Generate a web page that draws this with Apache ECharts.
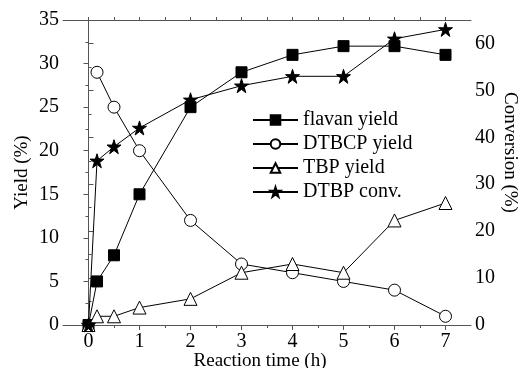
<!DOCTYPE html>
<html>
<head>
<meta charset="utf-8">
<script src="https://cdn.jsdelivr.net/npm/echarts@6/dist/echarts.min.js"></script>
<style>
  html, body { margin: 0; padding: 0; background: #fff; }
  #chart { width: 518px; height: 368px; }
</style>
</head>
<body>
<div id="chart"></div>
<script>
var times = [0, 0.167, 0.5, 1, 2, 3, 4, 5, 6, 7];
var flavanYield = [0, 5, 8, 15, 25, 29, 31, 32, 32, 31];
var dtbcpYield = [null, 29, 25, 20, 12, 7, 6, 5, 4, 1];
var tbpYield = [0, 1, 1, 2, 3, 6, 7, 6, 12, 14];
var dtbpConv = [0, 35, 38, 42, 48, 51, 53, 53, 61, 63];
var xLabels = [0, 1, 2, 3, 4, 5, 6, 7];
var xMinor = [0.5, 1.5, 2.5, 3.5, 4.5, 5.5, 6.5];
var xTop = [0, 0.5, 1, 1.5, 2, 2.5, 3, 3.5, 4, 4.5, 5, 5.5, 6, 6.5, 7];
var convLabels = [0, 10, 20, 30, 40, 50, 60];

function pairs(vals) {
  var out = [];
  for (var i = 0; i < times.length; i++) {
    if (vals[i] !== null) out.push([times[i], vals[i]]);
  }
  return out;
}

var font = 'Liberation Serif';
var axisCol = '#555';

var chart = echarts.init(document.getElementById('chart'));

function lineSeries(name, vals, symbol, size, filled, yIdx) {
  return {
    name: name,
    type: 'line',
    yAxisIndex: yIdx || 0,
    data: pairs(vals),
    symbol: symbol,
    symbolSize: size,
    showAllSymbol: true,
    lineStyle: { color: '#000', width: 1 },
    itemStyle: { color: filled ? '#000' : '#fff', borderColor: '#000', borderWidth: 1 },
    emphasis: { disabled: true },
    animation: false,
    z: yIdx ? 3 : 2
  };
}

var starPath = 'path://M50,0 L61.8,35.5 L100,35.5 L69.1,57.5 L80.9,93 L50,71 L19.1,93 L30.9,57.5 L0,35.5 L38.2,35.5 Z';

option = {
  animation: false,
  grid: { left: 63, right: 47, top: 20, bottom: 43, containLabel: false, outerBoundsMode: 'none' },
  legend: {
    orient: 'vertical',
    left: 247,
    top: 105,
    itemWidth: 45,
    itemHeight: 12,
    itemGap: 4,
    textStyle: { fontFamily: font, fontSize: 20, color: '#000' },
    data: ['flavan yield', 'DTBCP yield', 'TBP yield', 'DTBP conv.']
  },
  xAxis: [
    {
      type: 'value',
      min: -0.5,
      max: 7.5,
      position: 'bottom',
      splitLine: { show: false },
      axisLine: { lineStyle: { color: axisCol, width: 1 } },
      axisTick: { length: 5, lineStyle: { color: axisCol }, customValues: xLabels },
      axisLabel: { customValues: xLabels, fontFamily: font, fontSize: 20, color: '#000', margin: 7 },
      name: 'Reaction time (h)',
      nameLocation: 'middle',
      nameMoveOverlap: false,
      nameGap: 27,
      nameTextStyle: { fontFamily: font, fontSize: 19, color: '#000', padding: [0, 14, 0, 0] }
    },
    {
      type: 'value',
      min: -0.5,
      max: 7.5,
      position: 'bottom',
      splitLine: { show: false },
      axisLine: { show: false },
      axisTick: { length: 3, lineStyle: { color: axisCol }, customValues: xMinor },
      axisLabel: { show: false }
    },
    {
      type: 'value',
      min: -0.5,
      max: 7.5,
      position: 'top',
      splitLine: { show: false },
      axisLine: { lineStyle: { color: axisCol, width: 1 } },
      axisTick: { length: 3, lineStyle: { color: axisCol }, customValues: xTop },
      axisLabel: { show: false }
    }
  ],
  yAxis: [
    {
      type: 'value',
      min: 0,
      max: 35,
      interval: 5,
      position: 'left',
      splitLine: { show: false },
      axisLine: { show: true, lineStyle: { color: axisCol, width: 1 } },
      axisTick: { show: true, length: 5, lineStyle: { color: axisCol } },
      minorTick: { show: true, splitNumber: 2, length: 3, lineStyle: { color: axisCol } },
      axisLabel: { fontFamily: font, fontSize: 20, color: '#000', margin: 4 },
      name: 'Yield (%)',
      nameLocation: 'middle',
      nameMoveOverlap: false,
      nameGap: 31,
      nameTextStyle: { fontFamily: font, fontSize: 19, color: '#000' }
    },
    {
      type: 'value',
      min: 0,
      max: 65,
      interval: 10,
      position: 'right',
      splitLine: { show: false },
      axisLine: { show: true, lineStyle: { color: axisCol, width: 1 } },
      axisTick: { show: true, length: 5, lineStyle: { color: axisCol }, customValues: convLabels },
      minorTick: { show: true, splitNumber: 2, length: 3, lineStyle: { color: axisCol } },
      axisLabel: { customValues: convLabels, fontFamily: font, fontSize: 20, color: '#000', margin: 4 },
      name: 'Conversion (%)',
      nameLocation: 'middle',
      nameMoveOverlap: false,
      nameRotate: -90,
      nameGap: 29,
      nameTextStyle: { fontFamily: font, fontSize: 19, color: '#000', padding: [0, 40, 0, 0] }
    }
  ],
  series: [
    lineSeries('flavan yield', flavanYield, 'rect', 11, true),
    lineSeries('DTBCP yield', dtbcpYield, 'circle', 12, false),
    lineSeries('TBP yield', tbpYield, 'triangle', 13, false),
    lineSeries('DTBP conv.', dtbpConv, starPath, 14, true, 1)
  ]
};

chart.setOption(option);
</script>
</body>
</html>
